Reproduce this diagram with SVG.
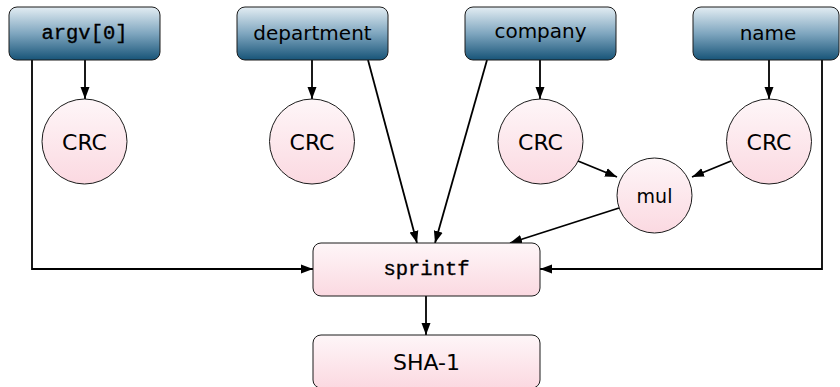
<svg xmlns="http://www.w3.org/2000/svg" width="840" height="387" viewBox="0 0 840 387">
  <defs>
    <linearGradient id="gBlue" x1="0" y1="0" x2="0" y2="1">
      <stop offset="0" stop-color="#e3edf3"/>
      <stop offset="0.5" stop-color="#7fa6bf"/>
      <stop offset="1" stop-color="#175478"/>
    </linearGradient>
    <linearGradient id="gPink" x1="0" y1="0" x2="0" y2="1">
      <stop offset="0" stop-color="#fef6f8"/>
      <stop offset="1" stop-color="#fbd9e1"/>
    </linearGradient>
    <marker id="arr" viewBox="0 0 12 10" refX="12" refY="5" markerWidth="12" markerHeight="10" markerUnits="userSpaceOnUse" orient="auto">
      <path d="M0,0.5 L12,5 L0,9.5 Z" fill="#000"/>
    </marker>
    <style>
      .src { fill: url(#gBlue); stroke: #1b1b1b; stroke-width: 1; }
      .op { fill: url(#gPink); stroke: #1b1b1b; stroke-width: 1; }
      .lbl { font-family: "DejaVu Sans", "Liberation Sans", sans-serif; font-size: 20px; fill: #000; text-anchor: middle; dominant-baseline: central; }
      .big { font-size: 22px; }
      .mono { font-family: "Liberation Mono", "DejaVu Sans Mono", monospace; font-size: 20.5px; stroke: #000; stroke-width: 0.35; }
      .edge { fill: none; stroke: #000; stroke-width: 1.8; marker-end: url(#arr); }
    </style>
  </defs>

  <!-- connectors -->
  <g id="edges">
    <path class="edge" d="M85,60 V99"/>
    <path class="edge" d="M312,60 V99"/>
    <path class="edge" d="M540,60 V99"/>
    <path class="edge" d="M769,60 V99"/>
    <path class="edge" d="M32,60 V269 H313"/>
    <path class="edge" d="M822,60 V269 H540"/>
    <path class="edge" d="M368,60 L417,243"/>
    <path class="edge" d="M487,60 L435,243"/>
    <path class="edge" d="M578,161 L617,177"/>
    <path class="edge" d="M731,161 L692,177"/>
    <path class="edge" d="M619,208 L510,243"/>
    <path class="edge" d="M426,296 V335"/>
  </g>

  <!-- inputs -->
  <g id="argv0">
    <rect class="src" x="9" y="7" width="151" height="53" rx="8"/>
    <text class="lbl mono" x="84.5" y="33">argv[0]</text>
  </g>
  <g id="department">
    <rect class="src" x="237" y="7" width="151" height="53" rx="8"/>
    <text class="lbl" x="312.5" y="33">department</text>
  </g>
  <g id="company">
    <rect class="src" x="465" y="7" width="151" height="53" rx="8"/>
    <text class="lbl" x="540.5" y="31">company</text>
  </g>
  <g id="name">
    <rect class="src" x="693" y="7" width="146" height="53" rx="8"/>
    <text class="lbl" x="768" y="33">name</text>
  </g>

  <!-- CRC nodes -->
  <g id="crc1">
    <circle class="op" cx="84.5" cy="141.5" r="42.5"/>
    <text class="lbl big" x="84.5" y="142">CRC</text>
  </g>
  <g id="crc2">
    <circle class="op" cx="312" cy="141.5" r="42.5"/>
    <text class="lbl big" x="312" y="142">CRC</text>
  </g>
  <g id="crc3">
    <circle class="op" cx="540.5" cy="141.5" r="42.5"/>
    <text class="lbl big" x="540.5" y="142">CRC</text>
  </g>
  <g id="crc4">
    <circle class="op" cx="769" cy="141.5" r="42.5"/>
    <text class="lbl big" x="769" y="142">CRC</text>
  </g>

  <g id="mul">
    <circle class="op" cx="654.5" cy="195.5" r="37.5"/>
    <text class="lbl" x="654.5" y="196" style="font-size:19px">mul</text>
  </g>

  <g id="sprintf">
    <rect class="op" x="313" y="243" width="227" height="53" rx="8"/>
    <text class="lbl mono" x="426.5" y="269">sprintf</text>
  </g>

  <g id="sha1">
    <rect class="op" x="313" y="335" width="227" height="53" rx="8"/>
    <text class="lbl big" x="426.5" y="362">SHA-1</text>
  </g>
</svg>
